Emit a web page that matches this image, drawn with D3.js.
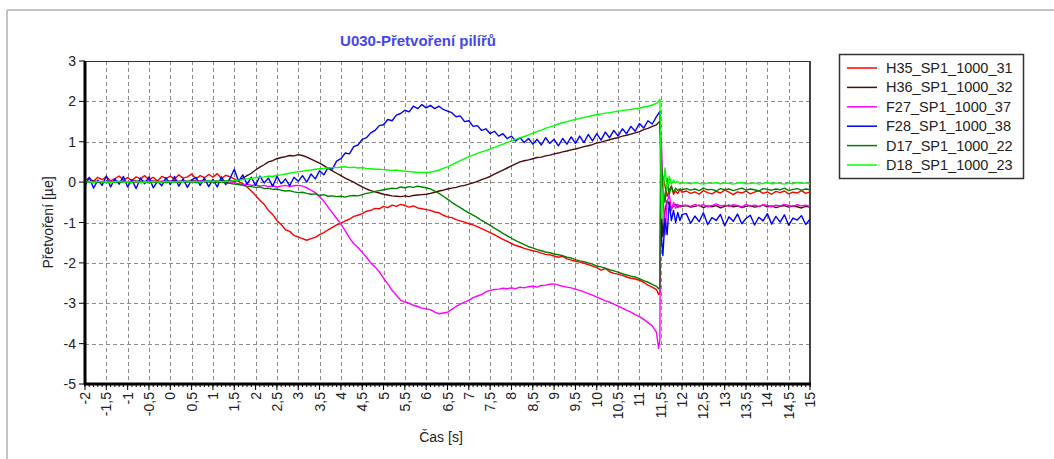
<html>
<head>
  <meta charset="utf-8">
  <script src="https://d3js.org/d3.v7.min.js"></script>
  <style>
  body { margin: 0; background: #fff; }
  text { font-family: "Liberation Sans", Arial, sans-serif; fill: #222; }
  .grid line { stroke: #8c8c8c; stroke-dasharray: 4,3; }
  </style>
</head>
<body>
  <div id="chart"></div>

<script>
var width = 1054,
  height = 459;

// sample times (s)
var timeMain = d3.range(-20, 115).map(function(i){ return i / 10; });   // -2.0 .. 11.4
var timeDrop = [11.45, 11.48, 11.5, 11.52, 11.55, 11.6, 11.65, 11.7, 11.75, 11.8, 11.85, 11.9, 11.95, 12.0];
var timeTail = d3.range(121, 151).map(function(i){ return i / 10; });  // 12.1 .. 15.0
var times = timeMain.concat(timeDrop, timeTail);

var seriesNames = ["H35_SP1_1000_31", "H36_SP1_1000_32", "F27_SP1_1000_37", "F28_SP1_1000_38", "D17_SP1_1000_22", "D18_SP1_1000_23"];
var seriesColors = ["#ff0000", "#4a0c0c", "#ff00ff", "#0000ff", "#008000", "#00ff00"];

var h35 = [
  0.05, 0.10, 0.02, 0.12, 0.06, 0.14, 0.03, 0.09, 0.15, 0.05,
  0.11, 0.04, 0.13, 0.08, 0.16, 0.06, 0.12, 0.03, 0.14, 0.09,
  0.15, 0.07, 0.18, 0.10, 0.13, 0.20, 0.08, 0.16, 0.11, 0.19,
  0.12, 0.21, 0.09, 0.17, 0.13, 0.08, 0.02, -0.04, -0.12, -0.22,
  -0.33, -0.45, -0.55, -0.70, -0.80, -0.95, -1.05, -1.18, -1.22, -1.32,
  -1.36, -1.40, -1.44, -1.40, -1.37, -1.30, -1.25, -1.18, -1.12, -1.06,
  -1.02, -0.96, -0.92, -0.85, -0.82, -0.78, -0.72, -0.70, -0.65, -0.66,
  -0.60, -0.63, -0.57, -0.60, -0.55, -0.58, -0.62, -0.59, -0.64, -0.66,
  -0.68, -0.70, -0.74, -0.76, -0.82, -0.86, -0.88, -0.93, -0.96, -0.99,
  -1.03, -1.06, -1.10, -1.15, -1.20, -1.25, -1.30, -1.36, -1.42, -1.47,
  -1.52, -1.57, -1.60, -1.64, -1.67, -1.70, -1.72, -1.76, -1.79, -1.80,
  -1.83, -1.86, -1.84, -1.90, -1.93, -1.96, -1.98, -2.01, -2.04, -2.08,
  -2.12, -2.18, -2.14, -2.22, -2.26, -2.28, -2.31, -2.35, -2.38, -2.40,
  -2.43, -2.48, -2.55, -2.60, -2.66,
  -2.78, -2.72, -0.50, 0.20, 0.15, -0.10, -0.35, -0.20, -0.10, -0.30, -0.22, -0.28, -0.18, -0.25,
  -0.22, -0.28, -0.24, -0.30, -0.21, -0.26, -0.29, -0.23, -0.27, -0.20,
  -0.25, -0.31, -0.24, -0.27, -0.22, -0.29, -0.25, -0.21, -0.28, -0.24,
  -0.30, -0.23, -0.26, -0.22, -0.29, -0.25, -0.27, -0.21, -0.28, -0.24
];

var h36 = [
  0.02, 0.00, 0.03, 0.01, -0.01, 0.02, 0.00, 0.03, 0.01, 0.02,
  0.00, 0.02, 0.03, 0.01, 0.02, 0.00, 0.03, 0.02, 0.01, 0.03,
  0.02, 0.04, 0.01, 0.03, 0.02, 0.05, 0.03, 0.02, 0.04, 0.03,
  0.04, 0.02, 0.05, 0.03, 0.04, 0.02, 0.05, 0.10, 0.16, 0.22,
  0.30, 0.37, 0.43, 0.50, 0.53, 0.58, 0.61, 0.63, 0.66, 0.65,
  0.68, 0.66, 0.62, 0.57, 0.52, 0.47, 0.41, 0.34, 0.28, 0.22,
  0.16, 0.10, 0.05, 0.00, -0.06, -0.12, -0.17, -0.21, -0.24, -0.27,
  -0.30, -0.32, -0.34, -0.35, -0.36, -0.34, -0.36, -0.33, -0.32, -0.31,
  -0.30, -0.28, -0.25, -0.22, -0.20, -0.17, -0.15, -0.13, -0.10, -0.08,
  -0.05, -0.02, 0.02, 0.06, 0.10, 0.14, 0.20, 0.25, 0.30, 0.35,
  0.40, 0.45, 0.50, 0.53, 0.55, 0.58, 0.61, 0.62, 0.65, 0.67,
  0.70, 0.72, 0.75, 0.77, 0.80, 0.82, 0.85, 0.88, 0.90, 0.93,
  0.97, 0.99, 1.02, 1.05, 1.08, 1.10, 1.14, 1.16, 1.19, 1.22,
  1.25, 1.30, 1.33, 1.38, 1.42,
  1.48, 1.50, 1.10, -0.80, -1.35, -0.70, -0.45, -0.55, -0.65, -0.60, -0.55, -0.62, -0.58, -0.60,
  -0.58, -0.62, -0.60, -0.57, -0.63, -0.59, -0.61, -0.58, -0.64, -0.60,
  -0.57, -0.61, -0.59, -0.63, -0.60, -0.58, -0.62, -0.60, -0.57, -0.61,
  -0.59, -0.63, -0.60, -0.58, -0.62, -0.59, -0.61, -0.64, -0.60, -0.62
];

var f27 = [
  0.01, -0.01, 0.02, 0.00, 0.01, -0.01, 0.02, 0.01, 0.00, 0.02,
  0.01, 0.03, 0.00, 0.02, 0.01, 0.03, 0.02, 0.00, 0.02, 0.01,
  0.03, 0.01, 0.02, 0.04, 0.02, 0.03, 0.01, 0.03, 0.02, 0.04,
  0.02, 0.03, 0.01, 0.02, 0.00, -0.02, -0.04, -0.06, -0.05, -0.08,
  -0.07, -0.10, -0.08, -0.11, -0.09, -0.12, -0.10, -0.08, -0.11, -0.09,
  -0.08, -0.10, -0.14, -0.20, -0.26, -0.36, -0.47, -0.62, -0.76, -0.90,
  -1.04, -1.20, -1.38, -1.52, -1.62, -1.74, -1.86, -2.00, -2.10, -2.22,
  -2.38, -2.52, -2.68, -2.80, -2.92, -2.97, -3.00, -3.05, -3.08, -3.12,
  -3.14, -3.16, -3.22, -3.26, -3.24, -3.22, -3.15, -3.08, -3.02, -2.97,
  -2.93, -2.86, -2.82, -2.78, -2.72, -2.68, -2.66, -2.65, -2.63, -2.64,
  -2.62, -2.64, -2.60, -2.62, -2.59, -2.58, -2.60, -2.56, -2.55, -2.53,
  -2.52, -2.55, -2.58, -2.60, -2.62, -2.65, -2.68, -2.72, -2.76, -2.80,
  -2.85, -2.89, -2.94, -2.97, -3.02, -3.07, -3.12, -3.17, -3.22, -3.28,
  -3.33, -3.40, -3.48, -3.56, -3.72,
  -4.12, -3.90, 1.10, 0.90, -0.20, -1.30, -0.50, -0.30, -0.70, -0.50, -0.65, -0.55, -0.62, -0.58,
  -0.57, -0.60, -0.55, -0.59, -0.56, -0.61, -0.58, -0.54, -0.59, -0.57,
  -0.60, -0.56, -0.58, -0.61, -0.55, -0.59, -0.57, -0.60, -0.56, -0.58,
  -0.61, -0.57, -0.59, -0.55, -0.58, -0.60, -0.56, -0.59, -0.57, -0.60
];

var f28 = [
  -0.10, 0.12, -0.15, 0.05, -0.08, 0.15, -0.12, 0.08, -0.05, 0.14,
  -0.12, 0.06, -0.16, 0.10, -0.04, 0.13, -0.14, 0.02, -0.09, 0.11,
  -0.06, 0.14, -0.10, 0.08, -0.13, 0.05, 0.12, -0.08, 0.10, -0.11,
  0.07, -0.12, 0.13, -0.06, 0.09, 0.32, 0.02, 0.18, -0.05, 0.12,
  -0.08, 0.15, -0.02, 0.10, -0.10, 0.14, -0.04, 0.08, -0.09, 0.12,
  0.02, 0.16, 0.00, 0.20, 0.08, 0.28, 0.18, 0.36, 0.32, 0.52,
  0.58, 0.72, 0.70, 0.88, 0.92, 1.06, 1.10, 1.22, 1.28, 1.40,
  1.42, 1.55, 1.52, 1.66, 1.70, 1.78, 1.74, 1.88, 1.82, 1.92,
  1.84, 1.90, 1.82, 1.88, 1.80, 1.76, 1.72, 1.62, 1.64, 1.50,
  1.52, 1.38, 1.40, 1.28, 1.32, 1.20, 1.26, 1.14, 1.20, 1.08,
  1.14, 1.02, 1.10, 0.98, 1.08, 0.94, 1.06, 0.92, 1.10, 0.96,
  1.06, 0.90, 1.08, 0.94, 1.12, 0.96, 1.14, 0.98, 1.18, 1.02,
  1.20, 1.04, 1.24, 1.10, 1.28, 1.14, 1.32, 1.20, 1.38, 1.26,
  1.45, 1.34, 1.52, 1.44, 1.62,
  1.70, 1.75, 0.20, -1.40, -1.82, -0.90, -1.30, -0.50, -0.95, -0.70, -1.00, -0.75, -0.95, -0.80,
  -0.78, -1.02, -0.84, -0.98, -0.76, -1.05, -0.88, -0.95, -0.80, -1.08,
  -0.86, -0.97, -0.79, -1.03, -0.90, -0.82, -1.06, -0.87, -0.96, -0.78,
  -1.04, -0.85, -0.99, -0.81, -1.07, -0.89, -0.94, -0.83, -1.05, -0.92
];

var d17 = [
  0.00, 0.02, -0.01, 0.01, 0.00, 0.02, -0.01, 0.01, 0.00, 0.01,
  0.01, -0.01, 0.02, 0.00, 0.01, -0.02, 0.01, 0.00, 0.02, -0.01,
  0.00, 0.01, -0.01, 0.02, 0.00, 0.01, -0.01, 0.00, 0.02, 0.00,
  0.01, -0.01, 0.00, -0.02, -0.03, -0.05, -0.06, -0.08, -0.10, -0.11,
  -0.13, -0.12, -0.16, -0.15, -0.18, -0.17, -0.20, -0.22, -0.21, -0.24,
  -0.26, -0.25, -0.28, -0.30, -0.29, -0.33, -0.31, -0.35, -0.34, -0.36,
  -0.35, -0.37, -0.34, -0.33, -0.34, -0.31, -0.28, -0.26, -0.23, -0.21,
  -0.19, -0.17, -0.15, -0.16, -0.12, -0.14, -0.11, -0.13, -0.10, -0.12,
  -0.14, -0.17, -0.22, -0.28, -0.35, -0.42, -0.50, -0.57, -0.63, -0.70,
  -0.76, -0.82, -0.88, -0.95, -1.01, -1.07, -1.14, -1.20, -1.27, -1.33,
  -1.39, -1.45, -1.50, -1.55, -1.60, -1.63, -1.67, -1.70, -1.73, -1.75,
  -1.78, -1.80, -1.82, -1.86, -1.88, -1.92, -1.95, -1.97, -2.00, -2.03,
  -2.08, -2.10, -2.13, -2.17, -2.20, -2.23, -2.27, -2.30, -2.33, -2.35,
  -2.39, -2.44, -2.48, -2.53, -2.58,
  -2.64, -2.62, 0.95, 0.40, -0.10, -0.50, 0.10, -0.30, -0.10, -0.25, -0.15, -0.20, -0.17, -0.19,
  -0.16, -0.20, -0.17, -0.21, -0.15, -0.19, -0.18, -0.22, -0.16, -0.19,
  -0.17, -0.21, -0.18, -0.15, -0.20, -0.17, -0.19, -0.22, -0.16, -0.18,
  -0.20, -0.17, -0.19, -0.15, -0.21, -0.18, -0.16, -0.20, -0.17, -0.19
];

var d18 = [
  0.00, 0.01, -0.01, 0.02, 0.00, 0.01, -0.01, 0.01, 0.02, 0.00,
  0.01, 0.00, 0.02, -0.01, 0.01, 0.00, 0.02, 0.01, 0.00, 0.02,
  0.01, 0.00, 0.02, 0.01, 0.03, 0.01, 0.02, 0.00, 0.02, 0.03,
  0.02, 0.03, 0.01, 0.03, 0.02, 0.04, 0.05, 0.06, 0.08, 0.09,
  0.11, 0.12, 0.13, 0.15, 0.14, 0.17, 0.18, 0.20, 0.22, 0.24,
  0.26, 0.27, 0.29, 0.30, 0.32, 0.33, 0.34, 0.35, 0.36, 0.36,
  0.37, 0.38, 0.36, 0.37, 0.35, 0.36, 0.34, 0.33, 0.32, 0.32,
  0.31, 0.30, 0.29, 0.30, 0.28, 0.27, 0.26, 0.25, 0.24, 0.24,
  0.24, 0.25, 0.27, 0.30, 0.34, 0.38, 0.43, 0.48, 0.53, 0.58,
  0.63, 0.67, 0.71, 0.75, 0.78, 0.82, 0.86, 0.90, 0.94, 0.98,
  1.02, 1.06, 1.10, 1.13, 1.17, 1.21, 1.25, 1.29, 1.33, 1.37,
  1.40, 1.44, 1.47, 1.50, 1.53, 1.55, 1.58, 1.60, 1.62, 1.65,
  1.67, 1.69, 1.71, 1.72, 1.74, 1.76, 1.77, 1.79, 1.80, 1.82,
  1.83, 1.86, 1.88, 1.91, 1.95,
  2.00, 2.05, 1.00, -0.90, -0.30, 0.35, -0.20, 0.15, -0.05, 0.05, -0.02, 0.02, -0.04, -0.02,
  -0.02, -0.04, -0.01, -0.03, -0.05, -0.02, -0.03, -0.01, -0.04, -0.02,
  -0.03, -0.05, -0.02, -0.01, -0.04, -0.03, -0.02, -0.05, -0.03, -0.01,
  -0.04, -0.02, -0.03, -0.05, -0.02, -0.04, -0.01, -0.03, -0.02, -0.04
];

var seriesValues = [h35, h36, f27, f28, d17, d18];

var xTicks = d3.range(-4, 31).map(function(i){ return i / 2; });
var yTicks = [3, 2, 1, 0, -1, -2, -3, -4, -5];

var chartTitle = "U030-Přetvoření pilířů";
var xTitle = "Čas [s]";
var yTitle = "Přetvoření [µe]";

var plot = { left: 85, top: 61, right: 810, bottom: 384 };

var svg = d3.select("#chart").append("svg")
    .attr("width", width)
    .attr("height", height);

// outer panel frame
svg.append("line").attr("x1", 7).attr("y1", 10).attr("x2", width).attr("y2", 10)
  .attr("stroke", "#c4c4c4").attr("stroke-width", 2);
svg.append("line").attr("x1", 7).attr("y1", 10).attr("x2", 7).attr("y2", height)
  .attr("stroke", "#c4c4c4").attr("stroke-width", 2);

var x = d3.scaleLinear().domain([-2, 15]).range([plot.left, plot.right]);
var y = d3.scaleLinear().domain([-5, 3]).range([plot.bottom, plot.top]);

function fmt(d){ return String(d).replace(".", ","); }

// grid
var grid = svg.append("g").attr("class", "grid");
grid.selectAll("line.v").data(xTicks.filter(function(d){ return d > -2 && d < 15; }))
  .enter().append("line")
    .attr("class", "v")
    .attr("x1", function(d){ return Math.round(x(d)) + 0.5; })
    .attr("x2", function(d){ return Math.round(x(d)) + 0.5; })
    .attr("y1", plot.top).attr("y2", plot.bottom);
grid.selectAll("line.h").data(yTicks.filter(function(d){ return d > -5 && d < 3; }))
  .enter().append("line")
    .attr("class", "h")
    .attr("y1", function(d){ return Math.round(y(d)) + 0.5; })
    .attr("y2", function(d){ return Math.round(y(d)) + 0.5; })
    .attr("x1", plot.left).attr("x2", plot.right);

// top and right frame
svg.append("line").attr("x1", plot.left).attr("x2", plot.right).attr("y1", plot.top + 0.5).attr("y2", plot.top + 0.5)
  .attr("stroke", "#333").attr("stroke-width", 1);
svg.append("line").attr("x1", plot.right).attr("x2", plot.right).attr("y1", plot.top).attr("y2", plot.bottom)
  .attr("stroke", "#444").attr("stroke-width", 2);

// series
svg.append("clipPath").attr("id", "clip").append("rect")
  .attr("x", plot.left).attr("y", plot.top)
  .attr("width", plot.right - plot.left).attr("height", plot.bottom - plot.top);

var line = d3.line()
  .x(function(d){ return x(d[0]); })
  .y(function(d){ return y(d[1]); });

seriesValues.forEach(function(vals, k){
  var pts = times.map(function(t, i){ return [t, vals[i]]; });
  svg.append("path")
    .attr("clip-path", "url(#clip)")
    .attr("d", line(pts))
    .attr("fill", "none")
    .attr("stroke", seriesColors[k])
    .attr("stroke-width", 1.4)
    .attr("stroke-linejoin", "round");
});

// x axis
var xAxis = svg.append("g").attr("transform", "translate(0," + plot.bottom + ")");
xAxis.selectAll("line.minor").data(d3.range(-20, 151).map(function(i){ return i / 10; }))
  .enter().append("line")
    .attr("x1", function(d){ return x(d); }).attr("x2", function(d){ return x(d); })
    .attr("y1", 0).attr("y2", 3)
    .attr("stroke", "#000");
xAxis.selectAll("line.major").data(xTicks)
  .enter().append("line")
    .attr("x1", function(d){ return x(d); }).attr("x2", function(d){ return x(d); })
    .attr("y1", 0).attr("y2", 6)
    .attr("stroke", "#000");
xAxis.selectAll("text").data(xTicks)
  .enter().append("text")
    .attr("transform", function(d){ return "translate(" + (x(d) + 5) + ",8) rotate(-90)"; })
    .attr("text-anchor", "end")
    .style("font-size", "14px")
    .text(fmt);
svg.append("line").attr("x1", plot.left - 1).attr("x2", plot.right + 1)
  .attr("y1", plot.bottom).attr("y2", plot.bottom)
  .attr("stroke", "#000").attr("stroke-width", 3);

// y axis
var yAxis = svg.append("g").attr("transform", "translate(" + plot.left + ",0)");
yAxis.selectAll("line").data(yTicks)
  .enter().append("line")
    .attr("x1", -6).attr("x2", 0)
    .attr("y1", function(d){ return y(d); }).attr("y2", function(d){ return y(d); })
    .attr("stroke", "#000");
yAxis.selectAll("text").data(yTicks)
  .enter().append("text")
    .attr("x", -9)
    .attr("y", function(d){ return y(d) + 5; })
    .attr("text-anchor", "end")
    .style("font-size", "14px")
    .text(fmt);
svg.append("line").attr("x1", plot.left).attr("x2", plot.left)
  .attr("y1", plot.top).attr("y2", plot.bottom + 1)
  .attr("stroke", "#000").attr("stroke-width", 3);

// titles
svg.append("text")
  .attr("x", 418).attr("y", 46)
  .attr("text-anchor", "middle")
  .style("font-size", "15px").style("font-weight", "bold").style("fill", "#4646f0")
  .text(chartTitle);
svg.append("text")
  .attr("x", 441).attr("y", 442)
  .attr("text-anchor", "middle")
  .style("font-size", "14px")
  .text(xTitle);
svg.append("text")
  .attr("transform", "translate(53," + ((plot.top + plot.bottom) / 2) + ") rotate(-90)")
  .attr("text-anchor", "middle")
  .style("font-size", "14px")
  .text(yTitle);

// legend
var legend = svg.append("g").attr("transform", "translate(839,54)");
legend.append("rect")
  .attr("x", 0.5).attr("y", 0.5).attr("width", 184).attr("height", 124)
  .attr("fill", "#fff").attr("stroke", "#333").attr("stroke-width", 1.5);
var items = legend.selectAll("g.item").data(seriesNames)
  .enter().append("g")
    .attr("class", "item")
    .attr("transform", function(d, i){ return "translate(0," + (14 + i * 19.4) + ")"; });
items.append("line")
  .attr("x1", 8).attr("x2", 38)
  .attr("stroke", function(d, i){ return seriesColors[i]; })
  .attr("stroke-width", 1.5);
items.append("text")
  .attr("x", 47).attr("y", 5)
  .style("font-size", "14.5px")
  .text(function(d){ return d; });

</script>

</body></html>
